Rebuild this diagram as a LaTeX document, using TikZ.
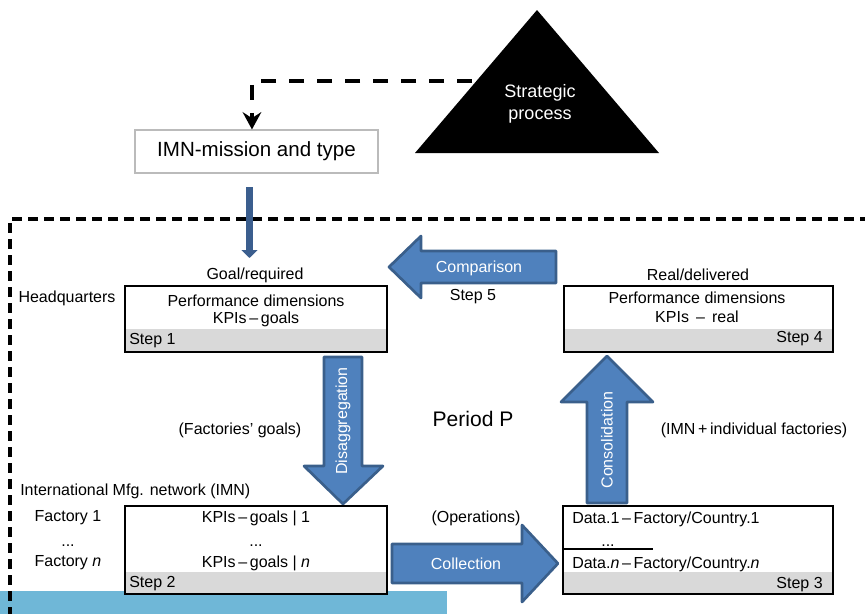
\documentclass[tikz,border=0pt]{standalone}
\usepackage{fontspec}
\setmainfont{Liberation Sans}
\usetikzlibrary{arrows.meta,fit}
\definecolor{arrfill}{HTML}{4F81BD}
\definecolor{arrline}{HTML}{3A5F8B}
\definecolor{stripgray}{HTML}{D9D9D9}
\definecolor{barblue}{HTML}{6FB7D7}
\definecolor{shaftblue}{HTML}{3B5E8E}
\definecolor{imnframe}{HTML}{BBBBBB}
\begin{document}
\begin{tikzpicture}[x=0.75pt,y=-0.75pt,
  txt/.style={font=\fontsize{12}{14}\selectfont, inner sep=0pt},
  boxframe/.style={draw=black, line width=1.6pt, inner sep=0pt},
  strip/.style={fill=stripgray},
  blockarrow/.style={fill=arrfill, draw=arrline, line width=2pt, line join=round},
  arrtxt/.style={txt, text=white},
  framedash/.style={line width=2.3pt, dash pattern=on 7.5pt off 4.5pt},
  dashconn/.style={line width=3pt, dash pattern=on 11pt off 10pt, -{Stealth[length=13pt,width=14pt,inset=4.5pt]}},
  shaft/.style={draw=shaftblue, line width=5.25pt, -{Triangle[length=6pt,width=12pt]}},
]
\useasboundingbox (0,0) rectangle (865,614);
\clip (0,0) rectangle (865,614);

% bottom bar and frame
\fill[barblue] (0,591) rectangle (447,614);
\draw[framedash] (870,219) -- (10,219) -- (10,620);

% IMN mission box
\node[draw=imnframe, line width=0.8pt, inner sep=0pt, minimum width=182.25pt, minimum height=32.25pt,
      font=\fontsize{15.4}{18}\selectfont] (imn) at (256.5,151.5) {IMN-mission and type};

% dashed connector from the strategic process
\coordinate (dstart) at (500,81);
\draw[dashconn] (dstart) -| ([xshift=-3.4pt]imn.north);

% strategic process triangle
\fill[black] (537,10) -- (659,153) -- (415,153) -- cycle;
\node[txt, text=white, font=\fontsize{13.5}{17}\selectfont, align=center] (strat) at (540,104) {Strategic\\process};

% shaft from IMN box to step 1
\coordinate (qtop) at (249.5,187);
\coordinate (qend) at (249.5,258);
\draw[shaft] (qtop) -- (qend);

% Step 1
\fill[strip] (125,329) rectangle (387,352);
\node[boxframe, fit={(125,286) (387,352)}] (s1) {};
\node[txt] (s1a) at (256,301) {Performance dimensions};
\node[txt] (s1b) at (256,319) {KPIs\,–\,goals};
\node[txt, anchor=west] (s1c) at (129,341) {Step 1};
\node[txt] (goal) at (255,275) {Goal/required};
\node[txt] (hq) at (67,298) {Headquarters};

% Step 4
\fill[strip] (564,329) rectangle (833,352);
\node[boxframe, fit={(564,286) (833,352)}] (s4) {};
\node[txt] (s4a) at (697,298) {Performance dimensions};
\node[txt] (s4b) at (697,317) {KPIs \,–\, real};
\node[txt, anchor=east] (s4c) at (823,339) {Step 4};
\node[txt] (real) at (698,275) {Real/delivered};

% Step 2
\fill[strip] (125,572) rectangle (387,594);
\node[boxframe, fit={(125,506) (387,594)}] (s2) {};
\node[txt] (s2a) at (256,518) {KPIs\,–\,goals | 1};
\node[txt, anchor=base] (s2d) at (256,546) {...};
\node[txt] (s2b) at (256,563) {KPIs\,–\,goals | \textit{n}};
\node[txt, anchor=west] (s2c) at (129,584) {Step 2};
\node[txt] (f1) at (68,518) {Factory 1};
\node[txt, anchor=base] (fd) at (68,546) {...};
\node[txt] (fn) at (68,563) {Factory \textit{n}};
\node[txt, anchor=west] (imnlab) at (20,491) {International Mfg. network (IMN)};
\node[txt] (fgoals) at (240,430) {(Factories’ goals)};

% Step 3
\fill[strip] (563,572) rectangle (833,594);
\node[boxframe, fit={(563,506) (833,594)}] (s3) {};
\node[txt, anchor=west] (s3a) at (572,519) {Data.1\,–\,Factory/Country.1};
\node[txt, anchor=base] (s3d) at (608,546) {...};
\coordinate (sepl) at (563,549);
\coordinate (sepr) at (653,549);
\draw[line width=1.4pt] (sepl) -- (sepr);
\node[txt, anchor=west] (s3b) at (572,564) {Data.\textit{n}\,–\,Factory/Country.\textit{n}};
\node[txt, anchor=east] (s3c) at (823,585) {Step 3};
\node[txt] (ops) at (476,518) {(Operations)};
\node[txt] (imnind) at (754,430) {(IMN\,+\,individual factories)};
\node[txt, font=\fontsize{15.8}{18}\selectfont] (period) at (473,419) {Period P};

% block arrows
\draw[blockarrow] (389,267) -- (421,236) -- (421,251) -- (556,251) -- (556,283) -- (421,283) -- (421,298) -- cycle;
\node[arrtxt] (cmp) at (479,268) {Comparison};
\node[txt] (st5) at (473,297) {Step 5};

\draw[blockarrow] (324,357) -- (362,357) -- (362,466) -- (383,466) -- (343,504) -- (304,466) -- (324,466) -- cycle;
\node[arrtxt, rotate=90] (dis) at (343,421) {Disaggregation};

\draw[blockarrow] (607,356) -- (653,402) -- (627,402) -- (627,503) -- (587,503) -- (587,402) -- (561,402) -- cycle;
\node[arrtxt, rotate=90] (con) at (607,440) {Consolidation};

\draw[blockarrow] (392,544) -- (522,544) -- (522,525) -- (558,563.5) -- (522,602) -- (522,583) -- (392,583) -- cycle;
\node[arrtxt] (col) at (466,564) {Collection};
\end{tikzpicture}
\end{document}
